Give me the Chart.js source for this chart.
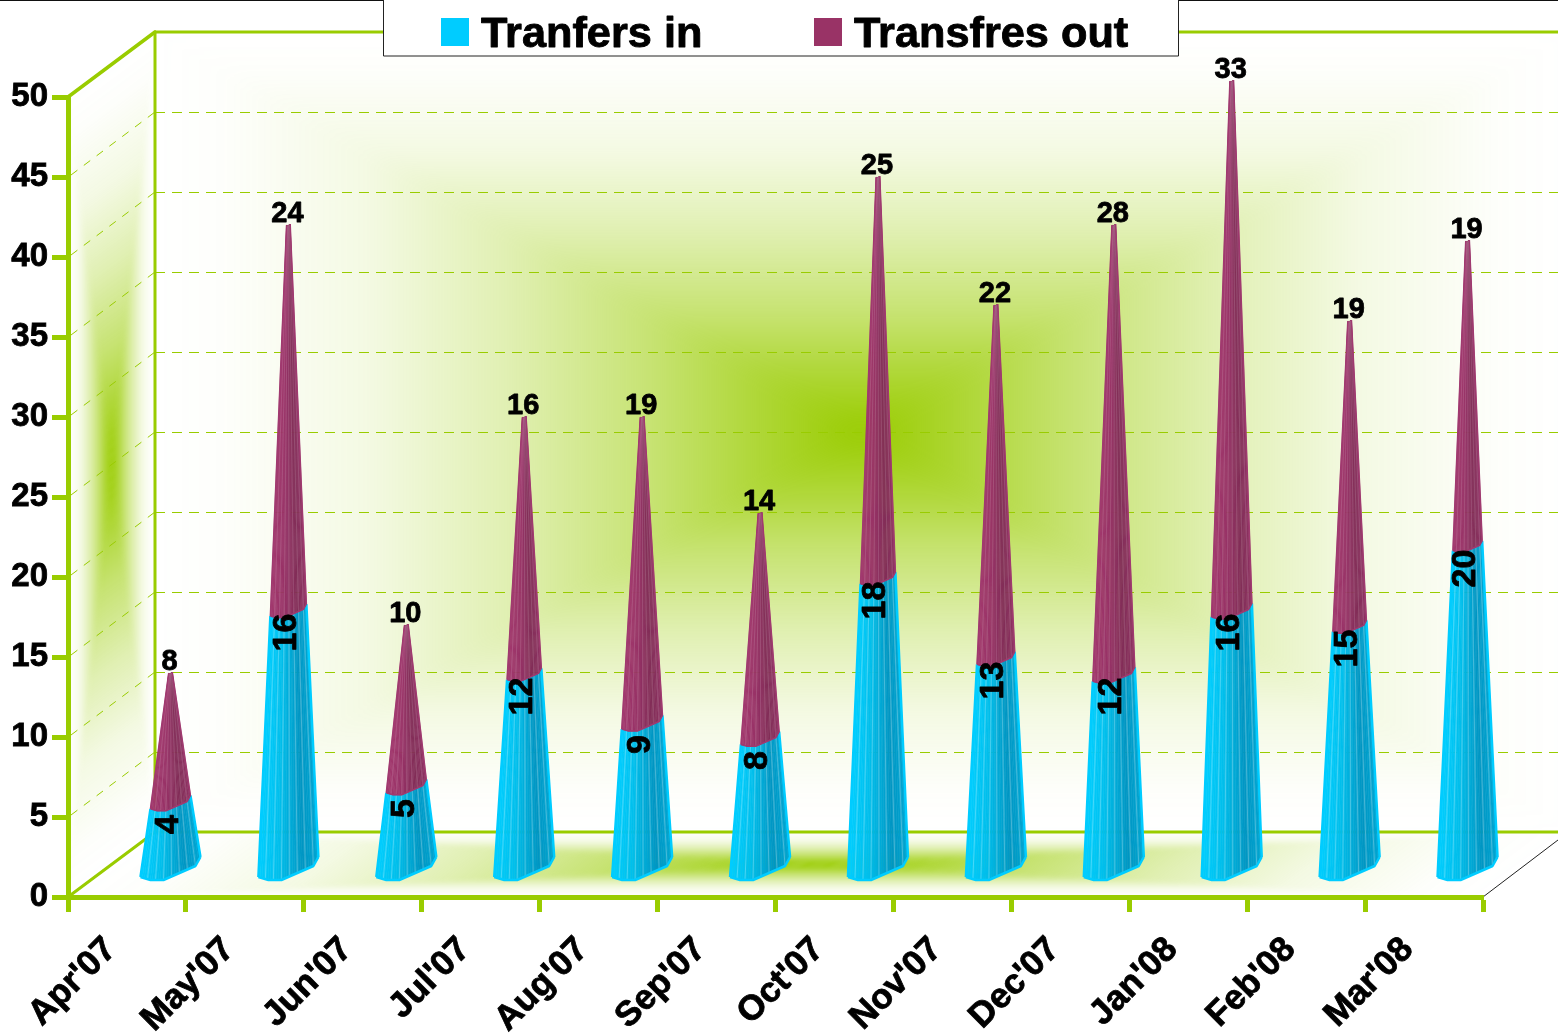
<!DOCTYPE html>
<html><head><meta charset="utf-8">
<style>html,body{margin:0;padding:0;background:#fff}canvas{display:block}</style>
<script src="https://cdn.jsdelivr.net/npm/chart.js@4"></script>
</head><body><canvas id="c" width="1558" height="1033"></canvas>
<script>
const categories = ["Apr'07","May'07","Jun'07","Jul'07","Aug'07","Sep'07","Oct'07","Nov'07","Dec'07","Jan'08","Feb'08","Mar'08"];
const transfersIn = [4,16,5,12,9,8,18,13,12,16,15,20];
const transfersOut = [8,24,10,16,19,14,25,22,28,33,19,19];
const seriesNames = ["Tranfers in","Transfres out"];
const seriesColors = ["#00ccff","#993366"];
const yTicks = [0,5,10,15,20,25,30,35,40,45,50];

const FONT = '"Liberation Sans", Arial, sans-serif';
const GREEN = '#99cc00';
const DEPTH_X = 87, DEPTH_Y = 65;
const GLOW = [[0,0],[.1,.015],[.3,.11],[.5,.3],[.7,.55],[.85,.78],[1,1]];
// cone footprint relative to its axis
const FOOT = [[-30,12.5],[-20,15.5],[-7,15.5],[25,1.5],[30,-7.5]];
const BLUE = [[0,[0,206,255]],[.35,[0,190,235]],[.75,[0,150,195]],[1,[0,165,210]]];
const PURPLE = [[0,[163,56,110]],[.4,[150,50,102]],[.75,[130,46,88]],[1,[142,50,98]]];
const TIP = 0.06;

function glow(ctx,w,h,blur,a,b,c,d,e,f){
  const o=document.createElement('canvas');o.width=w;o.height=h;
  const g=o.getContext('2d');const cx=w/2,cy=h/2;
  const sides=[[0,0,w,0,0,0,0,cy],[w,0,w,h,w,0,cx,0],[w,h,0,h,0,h,0,cy],[0,h,0,0,0,0,cx,0]];
  sides.forEach(s=>{
    g.save();g.beginPath();g.moveTo(s[0],s[1]);g.lineTo(s[2],s[3]);g.lineTo(cx,cy);g.closePath();g.clip();
    const lg=g.createLinearGradient(s[4],s[5],s[6],s[7]);
    GLOW.forEach(p=>lg.addColorStop(p[0],'rgba(153,204,0,'+p[1]+')'));
    g.fillStyle=lg;g.fillRect(0,0,w,h);g.restore();
  });
  const o2=document.createElement('canvas');o2.width=w;o2.height=h;
  const g2=o2.getContext('2d');g2.filter='blur('+blur+'px)';g2.drawImage(o,0,0);
  ctx.save();ctx.transform(a,b,c,d,e,f);ctx.drawImage(o2,0,0);ctx.restore();
}
function line(ctx,x0,y0,x1,y1,w,col,dash){
  ctx.save();ctx.lineWidth=w;ctx.strokeStyle=col;ctx.lineCap=dash?'butt':'round';
  if(dash)ctx.setLineDash(dash);
  ctx.beginPath();ctx.moveTo(x0,y0);ctx.lineTo(x1,y1);ctx.stroke();ctx.restore();
}
function footY(x){
  for(let i=0;i<FOOT.length-1;i++){
    const p=FOOT[i],q=FOOT[i+1];
    if(x<=q[0])return p[1]+(x-p[0])/(q[0]-p[0])*(q[1]-p[1]);
  }
  return FOOT[FOOT.length-1][1];
}
function shade(st,u){
  for(let i=0;i<st.length-1;i++){
    const p=st[i],q=st[i+1];
    if(u<=q[0]){const t=(u-p[0])/(q[0]-p[0]);
      return 'rgb('+p[1].map((v,k)=>Math.round(v+t*(q[1][k]-v))).join(',')+')';}
  }
  return 'rgb('+st[st.length-1][1].join(',')+')';
}
function segment(ctx,xc,s0,y0,s1,y1,st,edge,stripe,edgeW){
  const xL=FOOT[0][0],xR=FOOT[FOOT.length-1][0],N=30;
  const P=(x,s,y)=>[xc+x*s,y+footY(x)*s];
  for(let i=0;i<N;i++){
    const a=xL+(xR-xL)*i/N,b=xL+(xR-xL)*(i+1)/N;
    const p=[P(a,s0,y0),P(b,s0,y0),P(b,s1,y1),P(a,s1,y1)];
    const col=shade(st,(i+.5)/N);
    ctx.fillStyle=col;ctx.strokeStyle=col;ctx.lineWidth=.6;
    ctx.beginPath();p.forEach((q,k)=>k?ctx.lineTo(q[0],q[1]):ctx.moveTo(q[0],q[1]));ctx.closePath();ctx.fill();ctx.stroke();
  }
  ctx.strokeStyle='rgba(255,255,255,'+stripe+')';ctx.lineWidth=1;
  for(let x=xL+7;x<xR;x+=8){
    const p=P(x,s0,y0),q=P(x,s1,y1);
    ctx.beginPath();ctx.moveTo(p[0],p[1]);ctx.lineTo(q[0],q[1]);ctx.stroke();
  }
  ctx.strokeStyle=edge;ctx.lineWidth=edgeW;ctx.lineJoin='round';
  ctx.beginPath();
  let k=0;
  FOOT.forEach(f=>{const q=P(f[0],s0,y0);k++?ctx.lineTo(q[0],q[1]):ctx.moveTo(q[0],q[1]);});
  const r=P(xR,s1,y1),l=P(xL,s1,y1);
  ctx.moveTo(xc+xL*s0,y0+FOOT[0][1]*s0);ctx.lineTo(l[0],l[1]);
  ctx.moveTo(xc+xR*s0,y0+FOOT[FOOT.length-1][1]*s0);ctx.lineTo(r[0],r[1]);
  ctx.stroke();
}
function boldText(ctx,t,x,y){ctx.fillText(t,x,y);ctx.strokeText(t,x,y);}
const scene={
  id:'scene',
  beforeDraw(chart){
    const ctx=chart.ctx,{left:L,right:R,top:T,bottom:B}=chart.chartArea,y=chart.scales.y;
    const W=chart.width;
    ctx.save();
    ctx.fillStyle='#fff';ctx.fillRect(0,0,W,chart.height);
    glow(ctx,R-L,B-T,9,1,0,0,1,L+DEPTH_X,T-DEPTH_Y);
    glow(ctx,DEPTH_X,B-T,2,1,-DEPTH_Y/DEPTH_X,0,1,L,T);
    glow(ctx,R-L,DEPTH_Y,2,1,0,-DEPTH_X/DEPTH_Y,1,L+DEPTH_X,B-DEPTH_Y);
    yTicks.forEach(v=>{
      const p=Math.round(y.getPixelForValue(v));
      if(v>0&&v<50){
        line(ctx,L+DEPTH_X,p-DEPTH_Y+.5,W,p-DEPTH_Y+.5,1,GREEN,[10,7]);
        line(ctx,L+3,p-2,L+DEPTH_X,p-DEPTH_Y,1,GREEN,[8,8]);
      }
    });
    const gx=L+DEPTH_X;
    line(ctx,L,T,gx,T-DEPTH_Y,3.5,GREEN);
    line(ctx,gx,T-DEPTH_Y,W+5,T-DEPTH_Y,3,GREEN);
    line(ctx,gx,T-DEPTH_Y,gx,B-DEPTH_Y,3,GREEN);
    line(ctx,L,B,gx,B-DEPTH_Y,3,GREEN);
    line(ctx,gx,B-DEPTH_Y,W+5,B-DEPTH_Y,3,GREEN);
    line(ctx,R,B,W,B-DEPTH_Y+8,1,'#222');
    line(ctx,0,.5,W,.5,1,'#111');
    ctx.restore();
  },
  beforeDatasetDraw(){return false;},
  afterDatasetsDraw(chart){
    const ctx=chart.ctx,y=chart.scales.y;
    const mIn=chart.getDatasetMeta(0).data,mOut=chart.getDatasetMeta(1).data;
    const dx=DEPTH_X/2,dy=DEPTH_Y/2;
    ctx.save();
    categories.forEach((_,i)=>{
      const xc=mIn[i].x+dx;
      const y0=y.getPixelForValue(0)-dy,yB=mIn[i].y-dy,yT=mOut[i].y-dy;
      const s=(yB-yT)/(y0-yT);
      segment(ctx,xc,1,y0,s,yB,BLUE,'#00ccff',.28,2.5);
      segment(ctx,xc,s,yB,TIP,yT,PURPLE,'#a03a70',.13,1.5);
    });
    ctx.fillStyle='#000';ctx.strokeStyle='#000';ctx.lineWidth=.8;ctx.lineJoin='round';
    categories.forEach((_,i)=>{
      const xc=mIn[i].x+dx,yB=mIn[i].y-dy,yT=mOut[i].y-dy;
      ctx.font='bold 29px '+FONT;ctx.textAlign='center';ctx.textBaseline='middle';
      boldText(ctx,String(transfersOut[i]),xc-1,yT-11);
      ctx.save();ctx.translate(xc-2,yB+24);ctx.rotate(-Math.PI/2);
      ctx.font='bold 34px '+FONT;
      boldText(ctx,String(transfersIn[i]),0,0);ctx.restore();
    });
    ctx.fillStyle='#fff';ctx.strokeStyle='#222';ctx.lineWidth=1;
    ctx.fillRect(383.5,-2,795,58);ctx.strokeRect(383.5,-2,795,58);
    ctx.font='bold 43.3px '+FONT;ctx.textAlign='left';ctx.textBaseline='alphabetic';ctx.lineWidth=.9;ctx.strokeStyle='#000';
    [[441,481],[814,854]].forEach((p,i)=>{
      ctx.fillStyle=seriesColors[i];ctx.fillRect(p[0],18,28,28);
      ctx.fillStyle='#000';boldText(ctx,seriesNames[i],p[1],47);
    });
    ctx.restore();
  }
};
new Chart(document.getElementById('c'),{
  type:'bar',
  data:{labels:categories,datasets:[
    {label:seriesNames[0],data:transfersIn,backgroundColor:seriesColors[0],stack:'s'},
    {label:seriesNames[1],data:transfersOut,backgroundColor:seriesColors[1],stack:'s'}
  ]},
  plugins:[scene],
  options:{
    responsive:false,animation:false,devicePixelRatio:1,
    layout:{autoPadding:false,padding:{top:97,right:75,left:0,bottom:0}},
    plugins:{legend:{display:false},tooltip:{enabled:false},title:{display:false}},
    scales:{
      x:{type:'category',stacked:true,offset:true,
        afterFit(s){s.height=136;},
        border:{display:true,color:GREEN,width:5},
        grid:{display:true,drawOnChartArea:false,drawTicks:true,offset:true,tickColor:GREEN,tickWidth:5,tickLength:15,color:GREEN},
        ticks:{color:'#000',font:{family:FONT,size:35,weight:'bold'},minRotation:45,maxRotation:45,autoSkip:false,padding:17,labelOffset:-16,textStrokeColor:'#000',textStrokeWidth:.8}
      },
      y:{type:'linear',stacked:true,min:0,max:50,
        afterFit(s){s.width=68;},
        border:{display:true,color:GREEN,width:5},
        grid:{display:true,drawOnChartArea:false,drawTicks:true,tickColor:GREEN,tickWidth:5,tickLength:16,color:GREEN},
        afterBuildTicks(s){s.ticks=yTicks.map(v=>({value:v}));},
        ticks:{color:'#000',font:{family:FONT,size:33,weight:'bold'},padding:4,textStrokeColor:'#000',textStrokeWidth:.8}
      }
    }
  }
});
</script></body></html>
